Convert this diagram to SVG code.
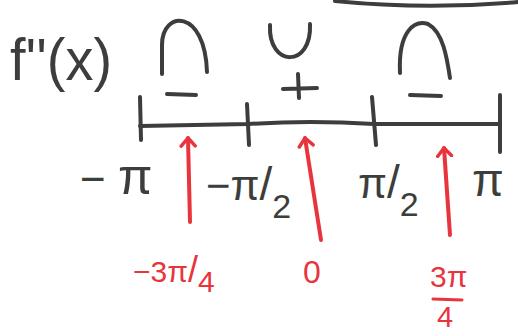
<svg xmlns="http://www.w3.org/2000/svg" width="518" height="336" viewBox="0 0 518 336">
<style>
.pen{fill:none;stroke:#3c3e3b;stroke-width:4;stroke-linecap:round;stroke-linejoin:round}
.ink{fill:#3c3e3b;font-family:"Liberation Sans",Arial,sans-serif}
.red{fill:#e8353d;font-family:"Liberation Sans",Arial,sans-serif}
.arr{fill:none;stroke:#e8353d;stroke-width:4;stroke-linecap:round;marker-end:url(#ah)}
</style>
<defs>
<marker id="ah" viewBox="0 0 20 20" refX="10" refY="10" markerWidth="20" markerHeight="20" markerUnits="userSpaceOnUse" orient="auto">
<path d="M2,3 L10,10 L2,17" fill="none" stroke="#e8353d" stroke-width="3.5" stroke-linecap="round" stroke-linejoin="round"/>
</marker>
</defs>
<rect width="518" height="336" fill="#ffffff"/>
<path class="pen" d="M335,1 Q425,10 518,2" stroke-width="3"/>
<g id="label-f">
<text class="ink" x="10" y="80" font-size="60" textLength="102" lengthAdjust="spacingAndGlyphs">f''(x)</text>
</g>
<g id="concave-1">
<path class="pen" d="M162,74 L162,45 C162,10 205,8 207,72"/>
<path class="pen" d="M167,94 L196,95" stroke-width="5"/>
</g>
<g id="convex">
<path class="pen" d="M270,25 C268,68 312,68 310,24"/>
<path class="pen" d="M283,89 L317,88 M298,74 L299,98" stroke-width="4.5"/>
</g>
<g id="concave-2">
<path class="pen" d="M400,73 C398,30 415,20 428,24 C443,32 447,58 450,78"/>
<path class="pen" d="M410,95 L441,96" stroke-width="5"/>
</g>
<g id="axis">
<path class="pen" d="M140,126 Q200,125 248,124 Q310,120 374,124 L500,124"/>
<path class="pen" d="M140,97 L141,140 M247,104 L249,145 M372,97 L376,145 M500,95 L500,152"/>
</g>
<g id="tick-labels">
<text class="ink" x="80" y="194" font-size="44">− <tspan font-size="50">π</tspan></text>
<text class="ink" x="206" y="200" font-size="42">−π<tspan font-size="46">/</tspan><tspan dy="18" font-size="34">2</tspan></text>
<text class="ink" x="358" y="198" font-size="42">π<tspan font-size="46">/</tspan><tspan dy="18" font-size="34">2</tspan></text>
<text class="ink" x="472" y="196" font-size="46">π</text>
</g>
<g id="connectors">
<path class="arr" d="M190,222 L188,138"/>
<path class="arr" d="M321,240 L305,138"/>
<path class="arr" d="M450,235 L444,148"/>
</g>
<g id="red-labels">
<text class="red" x="133" y="282" font-size="30">−3π<tspan font-size="36">/</tspan><tspan dy="10">4</tspan></text>
<text class="red" x="303" y="283" font-size="32">0</text>
<text class="red" x="430" y="287" font-size="30">3π</text>
<path d="M433,299 L462,300" fill="none" stroke="#e8353d" stroke-width="3" stroke-linecap="round"/>
<text class="red" x="437" y="327" font-size="29">4</text>
</g>
</svg>
